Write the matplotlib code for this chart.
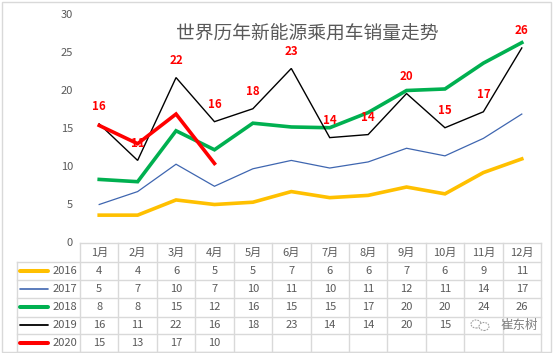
import matplotlib
matplotlib.use("Agg")
import matplotlib.pyplot as plt
from matplotlib.transforms import blended_transform_factory
from matplotlib.patches import Rectangle, Ellipse

plt.rcParams['font.family'] = ['Noto Sans CJK SC', 'DejaVu Sans']

title = "世界历年新能源乘用车销量走势"
months = ["1月", "2月", "3月", "4月", "5月", "6月", "7月", "8月", "9月", "10月", "11月", "12月"]
series_names = ["2016", "2017", "2018", "2019", "2020"]
v2016 = [3.6, 3.6, 5.6, 5.0, 5.3, 6.7, 5.9, 6.2, 7.3, 6.4, 9.2, 11.0]
v2017 = [5.0, 6.7, 10.3, 7.4, 9.7, 10.8, 9.8, 10.6, 12.4, 11.4, 13.7, 16.9]
v2018 = [8.3, 8.0, 14.7, 12.2, 15.7, 15.2, 15.1, 17.1, 20.0, 20.2, 23.6, 26.3]
v2019 = [15.6, 10.8, 21.7, 15.9, 17.6, 22.9, 13.8, 14.2, 19.6, 15.1, 17.2, 25.6]
v2020 = [15.4, 13.0, 16.9, 10.4]
series_values = [v2016, v2017, v2018, v2019, v2020]
colors = ["#FFC000", "#3F66B0", "#00B050", "#000000", "#FF0000"]
widths = [2.6, 0.9, 2.6, 1.0, 2.6]
watermark = "崔东树"

W, H = 556, 353
fig = plt.figure(figsize=(W / 100, H / 100), dpi=100)

def fx(px):
    return px / W

def fy(py):
    return 1 - py / H

# outer border
fig.patches.append(Rectangle((fx(1.5), fy(352)), fx(551) - fx(1.5), fy(1.5) - fy(352),
                             transform=fig.transFigure, fill=False, edgecolor="#D9D9D9", lw=1))

ax_left, ax_right, ax_top, ax_bot = 80, 541, 14.5, 242.5
ax = fig.add_axes([fx(ax_left), fy(ax_bot), fx(ax_right) - fx(ax_left), fy(ax_top) - fy(ax_bot)])
ax.set_xlim(-0.5, 11.5)
ax.set_ylim(0, 30)
ax.set_yticks([0, 5, 10, 15, 20, 25, 30])
ax.set_xticks([])
ax.tick_params(axis='y', length=0, pad=5, labelsize=8, labelcolor="#595959")
for s in ax.spines.values():
    s.set_visible(False)
ax.patch.set_alpha(0)

for vals, c, w in zip(series_values, colors, widths):
    ax.plot(range(len(vals)), vals, color=c, lw=w, solid_joinstyle='miter', clip_on=False)

for i, v in enumerate(v2019):
    ax.annotate(f"{round(v)}", (i, v), xytext=(0, 12.5), textcoords="offset points",
                ha="center", va="center", color="#FF0000", fontsize=8.3, fontweight="bold")

fig.text(fx(307), fy(33), title, ha="center", va="center", fontsize=13.5, color="#595959")

# data table
trans = blended_transform_factory(ax.transData, fig.transFigure)
grid_c = "#D9D9D9"
row_lines = [242.7, 262.3, 280.3, 298.3, 316.5, 334.3, 351.8]
leg_left = 16.5
for k, yl in enumerate(row_lines):
    x0 = ax_left if k == 0 else leg_left
    fig.add_artist(plt.Line2D([fx(x0), fx(ax_right)], [fy(yl), fy(yl)], transform=fig.transFigure,
                              color=grid_c, lw=1))
for j in range(13):
    fig.add_artist(plt.Line2D([j - 0.5, j - 0.5], [fy(row_lines[0]), fy(row_lines[-1])], transform=trans,
                              color=grid_c, lw=1))
fig.add_artist(plt.Line2D([fx(leg_left), fx(leg_left)], [fy(row_lines[1]), fy(row_lines[-1])],
                          transform=fig.transFigure, color=grid_c, lw=1))

txt_c = "#595959"
mid0 = (row_lines[0] + row_lines[1]) / 2
for j, m in enumerate(months):
    fig.text(j, fy(mid0), m, transform=trans, ha="center", va="center", fontsize=8, color=txt_c)

for r, (name, vals, c, w) in enumerate(zip(series_names, series_values, colors, widths)):
    ym = (row_lines[r + 1] + row_lines[r + 2]) / 2
    fig.add_artist(plt.Line2D([fx(20), fx(48)], [fy(ym), fy(ym)], transform=fig.transFigure,
                              color=c, lw=w + 0.3, solid_capstyle='round'))
    fig.text(fx(77), fy(ym), name, ha="right", va="center", fontsize=8, color=txt_c)
    for j, v in enumerate(vals):
        if name == "2019" and j >= 10:
            continue  # hidden beneath the watermark in the reference
        fig.text(j, fy(ym), f"{round(v)}", transform=trans, ha="center", va="center",
                 fontsize=8, color=txt_c)

# watermark
wy = 325
fig.text(fx(519), fy(wy), watermark, ha="center", va="center", fontsize=9, color="#7F7F7F")
for (cx, cy, ew, eh) in [(476, wy - 1, 10, 8), (484, wy + 1.5, 10, 8)]:
    fig.patches.append(Ellipse((fx(cx), fy(cy)), fx(ew), eh / H, transform=fig.transFigure,
                               fill=True, facecolor="white", edgecolor="#9F9F9F", lw=0.8, ls=(0, (1.5, 1))))

fig.savefig("out.png", dpi=100)
